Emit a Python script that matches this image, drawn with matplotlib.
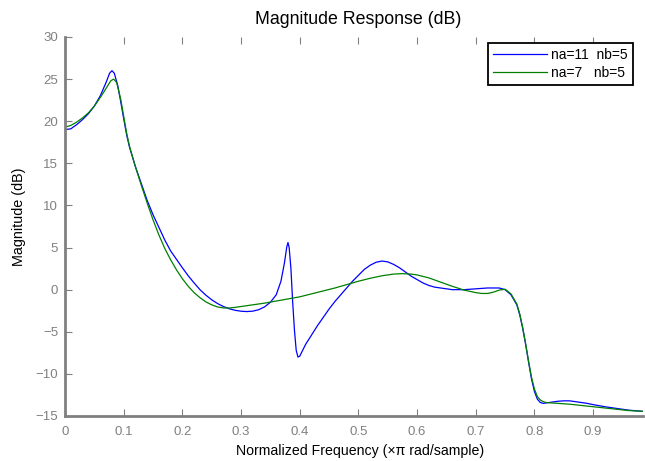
import matplotlib
matplotlib.use('Agg')
import matplotlib.pyplot as plt
import numpy as np

plt.rcParams['font.family'] = ['Liberation Sans', 'DejaVu Sans']

# blue: na=11 nb=5
freq_a = [0.000, 0.010, 0.020, 0.030, 0.040, 0.050, 0.060, 0.070, 0.076, 0.080,
          0.084, 0.090, 0.095, 0.100, 0.105, 0.110, 0.120, 0.130, 0.140, 0.150,
          0.160, 0.170, 0.180, 0.190, 0.200, 0.210, 0.220, 0.230, 0.240, 0.250,
          0.260, 0.270, 0.280, 0.290, 0.300, 0.310, 0.320, 0.330, 0.340, 0.350,
          0.360, 0.368, 0.374, 0.378, 0.380, 0.382, 0.385, 0.388, 0.391, 0.394,
          0.397, 0.400, 0.405, 0.410, 0.420, 0.430, 0.440, 0.450, 0.460, 0.470,
          0.480, 0.490, 0.500, 0.510, 0.520, 0.530, 0.540, 0.550, 0.560, 0.570,
          0.580, 0.590, 0.600, 0.610, 0.620, 0.630, 0.640, 0.650, 0.660, 0.670,
          0.680, 0.690, 0.700, 0.710, 0.720, 0.730, 0.740, 0.750, 0.760, 0.770,
          0.775, 0.780, 0.785, 0.790, 0.795, 0.800, 0.805, 0.810, 0.815, 0.820,
          0.830, 0.840, 0.850, 0.860, 0.870, 0.880, 0.890, 0.900, 0.920, 0.940,
          0.960, 0.985]
mag_a = [19.0, 19.1, 19.6, 20.2, 20.9, 21.8, 23.0, 24.6, 25.7, 26.0,
         25.7, 24.2, 22.3, 20.3, 18.4, 16.9, 14.6, 12.6, 10.6, 8.9,
         7.4, 5.9, 4.6, 3.6, 2.6, 1.65, 0.8, 0.0, -0.65, -1.2,
         -1.65, -2.0, -2.27, -2.45, -2.56, -2.6, -2.55, -2.38, -2.05, -1.5,
         -0.6, 1.0, 3.2, 5.1, 5.6, 5.0, 2.5, -1.5, -4.8, -7.2,
         -8.0, -7.9, -7.2, -6.5, -5.4, -4.3, -3.3, -2.3, -1.4, -0.6,
         0.2, 1.0, 1.7, 2.4, 2.9, 3.25, 3.4, 3.3, 3.0, 2.6,
         2.1, 1.6, 1.2, 0.8, 0.5, 0.3, 0.2, 0.1, 0.0, 0.0,
         0.0, 0.05, 0.1, 0.15, 0.2, 0.2, 0.2, 0.0, -0.6, -1.8,
         -3.0, -4.6, -6.5, -8.6, -10.6, -12.1, -13.0, -13.4, -13.5, -13.45,
         -13.35, -13.25, -13.2, -13.2, -13.3, -13.4, -13.5, -13.65, -13.9, -14.1,
         -14.3, -14.45]

# green: na=7 nb=5
freq_b = [0.000, 0.010, 0.020, 0.030, 0.040, 0.050, 0.060, 0.070, 0.078, 0.083,
          0.088, 0.095, 0.100, 0.105, 0.110, 0.120, 0.130, 0.140, 0.150, 0.160,
          0.170, 0.180, 0.190, 0.200, 0.210, 0.220, 0.230, 0.240, 0.250, 0.260,
          0.270, 0.280, 0.290, 0.300, 0.320, 0.340, 0.360, 0.380, 0.400, 0.420,
          0.440, 0.460, 0.480, 0.500, 0.520, 0.540, 0.560, 0.575, 0.590, 0.600,
          0.620, 0.640, 0.660, 0.680, 0.700, 0.710, 0.720, 0.730, 0.740, 0.750,
          0.760, 0.770, 0.775, 0.780, 0.785, 0.790, 0.795, 0.800, 0.805, 0.810,
          0.815, 0.820, 0.840, 0.860, 0.880, 0.900, 0.920, 0.940, 0.960, 0.985]
mag_b = [19.3, 19.5, 19.9, 20.4, 21.0, 21.8, 22.8, 23.9, 24.8, 25.0,
         24.6, 22.6, 20.6, 18.6, 17.0, 14.6, 12.4, 10.3, 8.3, 6.5,
         4.9, 3.55, 2.35, 1.3, 0.4, -0.35, -0.95, -1.45, -1.8, -2.05,
         -2.17, -2.18, -2.1, -2.0, -1.8, -1.6, -1.35, -1.1, -0.85, -0.5,
         -0.15, 0.2, 0.6, 1.0, 1.35, 1.65, 1.85, 1.9, 1.85, 1.75,
         1.4, 0.9, 0.4, -0.05, -0.35, -0.45, -0.45, -0.3, -0.05, 0.05,
         -0.5, -1.7, -2.9, -4.5, -6.4, -8.5, -10.4, -11.8, -12.7, -13.1,
         -13.3, -13.4, -13.5, -13.6, -13.75, -13.9, -14.05, -14.2, -14.35, -14.45]

x_ticks = [0, 0.1, 0.2, 0.3, 0.4, 0.5, 0.6, 0.7, 0.8, 0.9]
x_labels = ['0', '0.1', '0.2', '0.3', '0.4', '0.5', '0.6', '0.7', '0.8', '0.9']
y_ticks = [-15, -10, -5, 0, 5, 10, 15, 20, 25, 30]

fig = plt.figure(figsize=(6.45, 4.61), dpi=100)
ax = fig.add_axes([65 / 645, 1 - 416 / 461, 578 / 645, 379 / 461])

ax.plot(freq_a, mag_a, color='#0000ff', linewidth=0.9, label='na=11  nb=5')
ax.plot(freq_b, mag_b, color='#008000', linewidth=0.9, label='na=7   nb=5')

ax.set_xlim(0, 0.985)
ax.set_ylim(-15, 30)
ax.set_xticks(x_ticks)
ax.set_xticklabels(x_labels)
ax.set_yticks(y_ticks)

# matlab-ish axes: gray left/bottom, ticks inside, top ticks only
for side in ['top', 'right']:
    ax.spines[side].set_visible(False)
for side in ['left', 'bottom']:
    ax.spines[side].set_color('#808080')
    ax.spines[side].set_linewidth(2.0)
ax.tick_params(direction='in', length=5, width=0.8, color='#808080',
               labelcolor='#808080', labelsize=9.5, top=True)
ax.tick_params(axis='x', pad=7)
ax.tick_params(axis='y', pad=5)

ax.set_title('Magnitude Response (dB)', fontsize=12.8, pad=9, x=0.508)
ax.set_xlabel('Normalized Frequency (\u00d7\u03c0 rad/sample)', fontsize=10.2)
ax.xaxis.set_label_coords(0.51, -0.075, transform=ax.transAxes)
ax.set_ylabel('Magnitude (dB)', fontsize=10.4)
ax.yaxis.set_label_coords(-0.068, 0.526)

leg = ax.legend(loc='upper right', bbox_to_anchor=(0.982, 0.985), fontsize=10,
                fancybox=False, framealpha=1, edgecolor='black',
                handlelength=3.9, borderpad=0.36, labelspacing=0.3,
                handletextpad=0.3, borderaxespad=0)
leg.get_frame().set_linewidth(1.3)

fig.savefig('out.png', dpi=100)
